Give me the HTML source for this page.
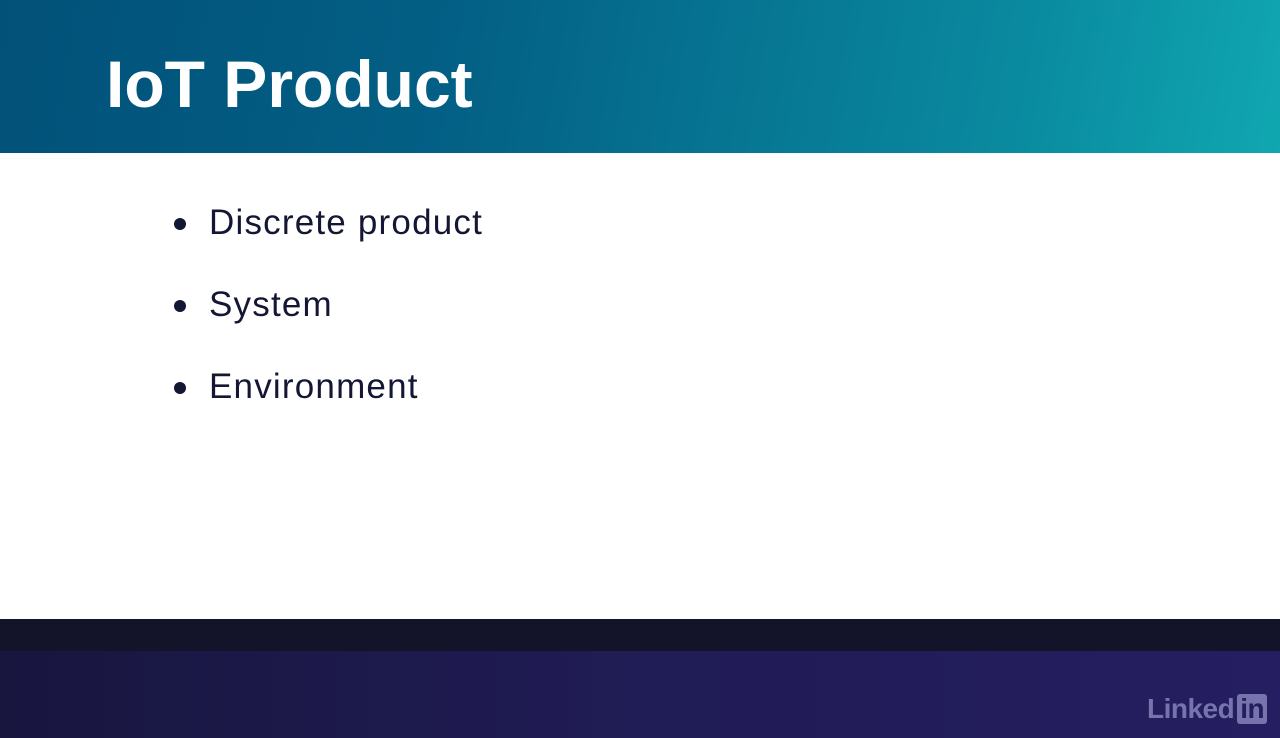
<!DOCTYPE html>
<html><head><meta charset="utf-8"><style>
html,body{margin:0;padding:0;}
body{width:1280px;height:738px;position:relative;overflow:hidden;background:#fff;font-family:"Liberation Sans",sans-serif;}
.hdr{position:absolute;left:0;top:0;width:1280px;height:153px;background:linear-gradient(100deg,#025179 0%,#035f85 35%,#0a8ba0 80%,#10a7b1 100%);}
.hdr h1{position:absolute;left:106px;top:44px;margin:0;color:#fff;font-size:66px;font-weight:bold;letter-spacing:0px;line-height:80px;}
ul{position:absolute;left:170px;top:200px;margin:0;padding:0;list-style:none;}
li{position:relative;padding-left:39px;font-size:35px;letter-spacing:1.2px;color:#141733;height:82px;line-height:46px;}
li:before{content:"";position:absolute;left:4px;top:18px;width:12px;height:12px;border-radius:50%;background:#141733;}
.b1{position:absolute;left:0;top:619px;width:1280px;height:32px;background:#131429;}
.b2{position:absolute;left:0;top:651px;width:1280px;height:87px;background:linear-gradient(90deg,#18163f 0%,#201c55 50%,#251e61 100%);}
.logo{position:absolute;left:1147px;top:693px;color:#7673ad;font-weight:bold;font-size:28px;line-height:32px;letter-spacing:-0.5px;}
.in{display:inline-block;background:#7673ad;color:#231e5e;border-radius:3px;padding:0 3px;margin-left:3px;height:30px;line-height:30px;}
</style></head><body>
<div class="hdr"><h1>IoT Product</h1></div>
<ul><li>Discrete product</li><li>System</li><li>Environment</li></ul>
<div class="b1"></div><div class="b2"></div>
<div class="logo">Linked<span class="in">in</span></div>
</body></html>
